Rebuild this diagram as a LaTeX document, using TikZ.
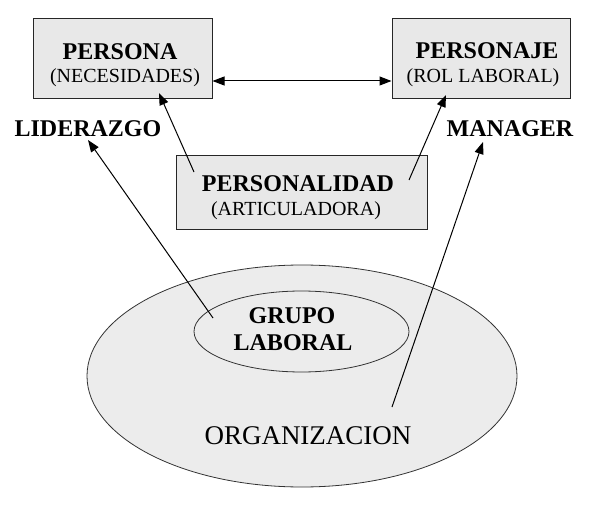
\documentclass[tikz,border=0pt]{standalone}
\usepackage{fontspec}
\setmainfont{Liberation Serif}
\usetikzlibrary{arrows.meta,shapes.geometric}
\definecolor{boxfill}{RGB}{232,232,232}
\definecolor{ellfill}{RGB}{236,236,236}
\tikzset{
  boxnode/.style={draw=black!85, fill=boxfill, line width=1pt, inner sep=0pt},
  ellnode/.style={ellipse, draw=black!80, fill=ellfill, line width=0.8pt, inner sep=0pt},
  ttl/.style={anchor=base, inner sep=0pt, font=\fontsize{24}{28}\selectfont\bfseries},
  sub/.style={anchor=base, inner sep=0pt, font=\fontsize{20}{24}\selectfont},
  arr/.style={line width=1pt, -{Triangle[length=12pt,width=9pt]}},
  darr/.style={line width=1pt, {Triangle[length=12pt,width=9pt]}-{Triangle[length=12pt,width=9pt]}}
}
\begin{document}
\begin{tikzpicture}[x=1pt,y=-1pt]
\useasboundingbox (0,0) rectangle (608,508);
% ellipses
\node[ellnode, minimum width=430pt, minimum height=222pt] (org) at (302,376) {};
\node[ellnode, minimum width=215pt, minimum height=81pt] (grupo) at (301.5,331.5) {};
% boxes
\node[boxnode, minimum width=179pt, minimum height=80pt] (persona) at (122.5,59) {};
\node[boxnode, minimum width=178pt, minimum height=80pt] (personaje) at (481,59) {};
\node[boxnode, minimum width=251pt, minimum height=73pt] (personalidad) at (301.5,192.5) {};
% texts
\node[ttl] (tpersona) at (120,60) {PERSONA};
\node[sub] (spersona) at (125,83) {(NECESIDADES)};
\node[ttl] (tpersonaje) at (487,59) {PERSONAJE};
\node[sub] (spersonaje) at (483,83) {(ROL LABORAL)};
\node[ttl] (tpersonalidad) at (298,192) {PERSONALIDAD};
\node[sub] (spersonalidad) at (296,215) {(ARTICULADORA)};
\node[ttl] (lider) at (88,137) {LIDERAZGO};
\node[ttl] (manager) at (510,137) {MANAGER};
\node[ttl] (tgrupo1) at (292,323) {GRUPO};
\node[ttl] (tgrupo2) at (293,350) {LABORAL};
\node[anchor=base, inner sep=0pt, font=\fontsize{27}{32}\selectfont] (torg) at (308,444) {ORGANIZACION};
% connector end points
\coordinate (a1s) at (194,172);
\coordinate (a1e) at (159,93);
\coordinate (a2s) at (409,180);
\coordinate (a2e) at (446,95);
\coordinate (a3s) at (213,318);
\coordinate (a3e) at (88,140);
\coordinate (a4s) at (392,407);
\coordinate (a4e) at (483,142);
% connectors
\draw[darr] (persona.east |- 0,81) -- (personaje.west |- 0,81);
\draw[arr] (a1s) -- (a1e);
\draw[arr] (a2s) -- (a2e);
\draw[arr] (a3s) -- (a3e);
\draw[arr] (a4s) -- (a4e);
\end{tikzpicture}
\end{document}
